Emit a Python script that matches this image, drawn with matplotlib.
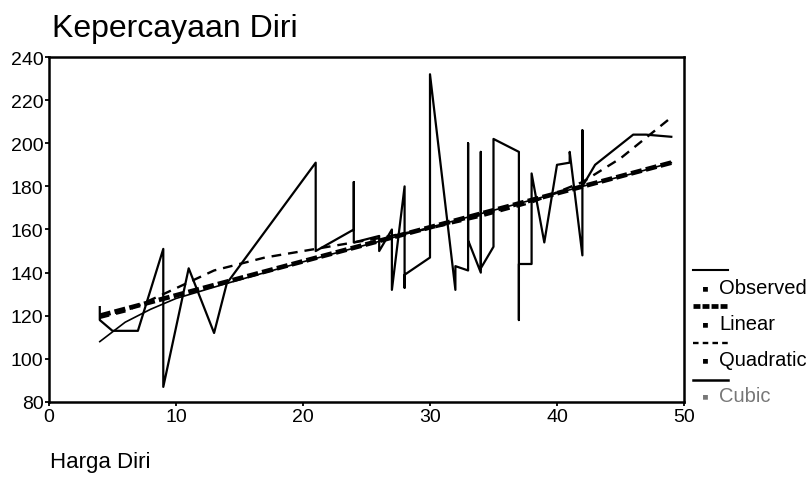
import matplotlib
matplotlib.use("Agg")
import matplotlib.pyplot as plt
from matplotlib.lines import Line2D

plt.rcParams['font.family'] = ['Liberation Sans', 'DejaVu Sans']
plt.rcParams['lines.scale_dashes'] = False

# Observed values (Harga Diri vs Kepercayaan Diri), in the order the line joins them
obs_x = [4, 4, 5, 7, 9, 9, 11, 13, 14, 21, 21, 24, 24, 24, 26, 26, 27, 27, 28, 28, 28,
         30, 30, 32, 32, 33, 33, 33, 34, 34, 34, 35, 35, 37, 37, 37, 38, 38, 39,
         40, 41, 41, 42, 42, 42, 43, 46, 47, 49]
obs_y = [124, 118, 113, 113, 151, 87, 142, 112, 135, 191, 150, 160, 182, 154, 157, 150, 160, 132, 180, 133, 139,
         147, 232, 132, 143, 141, 200, 155, 140, 196, 142, 152, 202, 196, 118, 144, 144, 186, 154,
         190, 191, 196, 148, 206, 180, 190, 204, 204, 203]

# fitted curves
lin_x = [4, 49]
lin_y = [120, 191]
quad_x = [4, 6, 9, 13, 17, 21, 26, 30, 34, 38, 42, 45, 49]
quad_y = [119, 122, 130, 141, 147, 151, 156, 160.5, 166, 172.5, 182, 193, 212]
cub_x = [4, 6, 8, 10, 14, 20, 26, 30, 36, 42, 46, 49]
cub_y = [108, 117, 123, 128, 135, 145, 154.5, 161, 170.5, 180, 186, 191]

legend_labels = ["Observed", "Linear", "Quadratic", "Cubic"]

fig = plt.figure(figsize=(8.11, 4.81), dpi=100)
ax = fig.add_axes([0.0604, 0.1622, 0.783, 0.7172])

ax.plot(cub_x, cub_y, color="black", lw=1.2)
ax.plot(quad_x, quad_y, color="black", lw=1.7, dashes=(7, 5))
ax.plot(lin_x, lin_y, color="black", lw=3.4, dashes=(8, 3))
ax.plot(obs_x, obs_y, color="black", lw=1.6)

ax.set_xlim(0, 50)
ax.set_ylim(80, 240)
ax.set_xticks(range(0, 51, 10))
ax.set_yticks(range(80, 241, 20))
ax.tick_params(direction="out", length=3, width=1.3, labelsize=14, pad=1)
for s in ax.spines.values():
    s.set_linewidth(1.8)

fig.text(52 / 811, 1 - 37 / 481, "Kepercayaan Diri", fontsize=23, ha="left", va="baseline")
fig.text(50 / 811, 1 - 468 / 481, "Harga Diri", fontsize=16, ha="left", va="baseline")

# SPSS style legend to the right of the plot
W, H = 811, 481
samples = [
    dict(y=271, lw=1.5, dashes=None),
    dict(y=307, lw=3.4, dashes=(5, 1.5)),
    dict(y=344, lw=1.7, dashes=(4, 3)),
    dict(y=381, lw=1.8, dashes=None),
]
text_y = [294, 330, 366, 402]
colors = ["black", "black", "black", "#777777"]
for smp, ty, lab, c in zip(samples, text_y, legend_labels, colors):
    ln = Line2D([693 / W, 728 / W], [1 - smp["y"] / H] * 2, color="black", lw=smp["lw"],
                transform=fig.transFigure)
    if smp["dashes"]:
        ln.set_dashes(smp["dashes"])
    fig.add_artist(ln)
    fig.text(702 / W, 1 - ty / H, "\u25aa", fontsize=14, color=c, ha="left", va="baseline")
    fig.text(719 / W, 1 - ty / H, lab, fontsize=14.5, color=c, ha="left", va="baseline")

fig.savefig("out.png", dpi=100)
